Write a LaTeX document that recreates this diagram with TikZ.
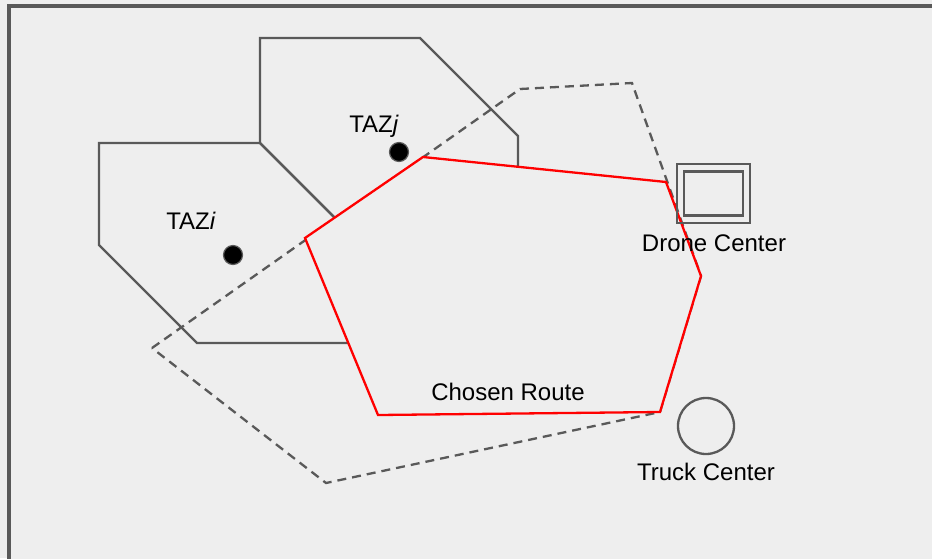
\documentclass[tikz,border=0pt]{standalone}
\usepackage{fontspec}
\setmainfont{Liberation Sans}
\definecolor{bgc}{HTML}{EEEEEE}
\definecolor{edgec}{HTML}{595959}
\definecolor{routec}{HTML}{FF0000}
\begin{document}
\begin{tikzpicture}[x=1pt,y=-1pt,
  zone/.style={draw=edgec,line width=2.3pt,line join=miter},
  reach/.style={draw=edgec,line width=2.3pt,dash pattern=on 9pt off 6pt},
  route/.style={draw=routec,fill=bgc,line width=2.3pt,line join=miter},
  tazdot/.style={circle,fill=black,draw=edgec,line width=1.2pt,minimum size=19pt,inner sep=0pt},
  lbl/.style={anchor=base,inner sep=0pt,font=\fontsize{24}{28}\selectfont},
  facility/.style={draw=edgec,line width=2.3pt}]
\useasboundingbox (0,0) rectangle (932,558);
\fill[bgc] (0,0) rectangle (932,558);
\draw[edgec,fill=bgc,line width=3.5pt] (9,6) rectangle (945,575);
% TAZ zones
\draw[zone] (99,143) -- (260,143) -- (358,241) -- (358,343) -- (197,343) -- (99,245) -- cycle;
\draw[zone] (260,38) -- (420,38) -- (518,136) -- (518,241) -- (358,241) -- (260,143) -- cycle;
% reachable area
\draw[reach] (152,348) -- (520,89) -- (632,83) -- (701,276) -- (660,412) -- (326,483) -- cycle;
% chosen route
\draw[route] (423,157) -- (666,182) -- (701,276) -- (660,412) -- (378,415) -- (305,238) -- cycle;
% TAZ centroids
\node[tazdot] (dj) at (399,152) {};
\node[tazdot] (di) at (233,255) {};
\node[lbl] (lj) at (374,132) {TAZ\textit{j}};
\node[lbl] (li) at (191,229) {TAZ\textit{i}};
% drone center
\node[facility,minimum width=73pt,minimum height=59pt,inner sep=0pt] (dco) at (713.5,193.5) {};
\node[facility,minimum width=59pt,minimum height=44pt,inner sep=0pt] (dci) at (dco.center) {};
\node[lbl] (dcl) at (714,251) {Drone Center};
% truck center
\node[facility,circle,minimum size=56pt,inner sep=0pt] (tc) at (706,426) {};
\node[lbl] (tcl) at (706,480) {Truck Center};
% route label
\node[lbl] (rl) at (508,400) {Chosen Route};
\end{tikzpicture}
\end{document}
